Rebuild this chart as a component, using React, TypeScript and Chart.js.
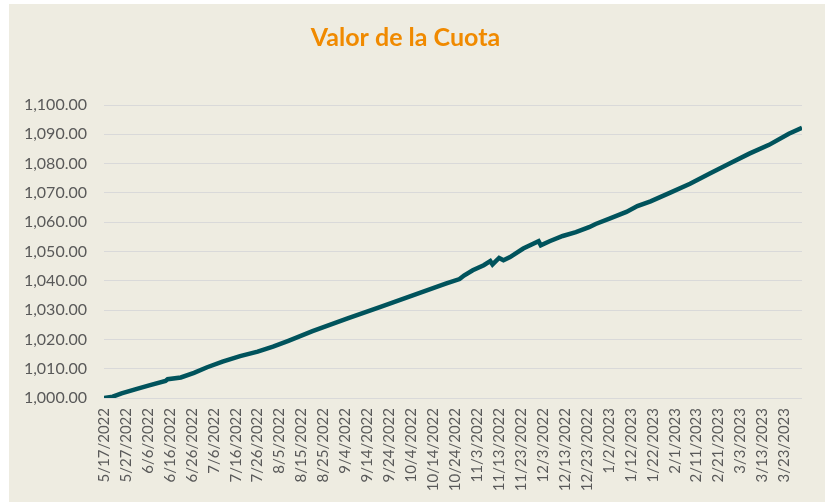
import React, { useEffect, useRef } from "react";
import { Chart, registerables } from "chart.js";

Chart.register(...registerables);

const startDate = "5/17/2022";

const sampleDates = [
  "5/17/2022", "5/21/2022", "5/25/2022", "6/1/2022", "6/7/2022", "6/14/2022", "6/15/2022",
  "6/21/2022", "6/27/2022", "7/3/2022", "7/10/2022", "7/18/2022", "7/26/2022", "8/2/2022",
  "8/9/2022", "8/20/2022", "9/5/2022", "9/20/2022", "10/5/2022", "10/20/2022", "10/26/2022",
  "10/28/2022", "11/1/2022", "11/6/2022", "11/9/2022", "11/10/2022", "11/13/2022", "11/15/2022",
  "11/18/2022", "11/24/2022", "12/1/2022", "12/2/2022", "12/6/2022", "12/12/2022", "12/18/2022",
  "12/24/2022", "12/27/2022", "1/2/2023", "1/10/2023", "1/15/2023", "1/21/2023", "1/30/2023",
  "2/8/2023", "2/17/2023", "2/26/2023", "3/7/2023", "3/16/2023", "3/25/2023", "3/31/2023",
];

const cuotaValues = [
  1000.0, 1000.45, 1001.6, 1003.1, 1004.4, 1005.8, 1006.4,
  1007.0, 1008.6, 1010.5, 1012.4, 1014.3, 1015.8, 1017.5,
  1019.5, 1022.8, 1027.2, 1031.1, 1035.1, 1039.1, 1040.6,
  1041.8, 1043.6, 1045.3, 1046.7, 1045.6, 1047.8, 1047.0,
  1048.1, 1051.0, 1053.5, 1052.1, 1053.5, 1055.3, 1056.6,
  1058.3, 1059.4, 1061.1, 1063.5, 1065.5, 1067.1, 1070.1,
  1073.1, 1076.6, 1080.0, 1083.4, 1086.4, 1090.2, 1092.2,
];

const tickLabels = [
  "5/17/2022", "5/27/2022", "6/6/2022", "6/16/2022", "6/26/2022", "7/6/2022", "7/16/2022",
  "7/26/2022", "8/5/2022", "8/15/2022", "8/25/2022", "9/4/2022", "9/14/2022", "9/24/2022",
  "10/4/2022", "10/14/2022", "10/24/2022", "11/3/2022", "11/13/2022", "11/23/2022", "12/3/2022",
  "12/13/2022", "12/23/2022", "1/2/2023", "1/12/2023", "1/22/2023", "2/1/2023", "2/11/2023",
  "2/21/2023", "3/3/2023", "3/13/2023", "3/23/2023",
];

const lastDate = "3/31/2023";

function dayIndex(s: string): number {
  const [m, d, y] = s.split("/").map(Number);
  const [m0, d0, y0] = startDate.split("/").map(Number);
  return Math.round((Date.UTC(y, m - 1, d) - Date.UTC(y0, m0 - 1, d0)) / 86400000);
}

const FONT = "Lato, 'Open Sans', sans-serif";

export default function App() {
  const ref = useRef<HTMLCanvasElement | null>(null);

  useEffect(() => {
    if (!ref.current) return;
    const tickDays = tickLabels.map(dayIndex);
    const chart = new Chart(ref.current, {
      type: "line",
      data: {
        datasets: [
          {
            label: "Valor de la Cuota",
            data: sampleDates.map((d, i) => ({ x: dayIndex(d), y: cuotaValues[i] })),
            borderColor: "#00535C",
            borderWidth: 4.5,
            pointRadius: 0,
            tension: 0,
            fill: false,
          },
        ],
      },
      options: {
        responsive: false,
        animation: false,
        layout: { padding: { left: 0, right: 23, top: 0, bottom: 0 } },
        plugins: {
          legend: { display: false },
          tooltip: { enabled: false },
          title: {
            display: true,
            text: "Valor de la Cuota",
            color: "#F08A00",
            font: { family: FONT, size: 25, weight: "bold" },
            padding: { top: 19, bottom: 52 },
          },
        },
        scales: {
          x: {
            type: "linear",
            min: 0,
            max: dayIndex(lastDate),
            afterBuildTicks: (scale: any) => {
              scale.ticks = tickDays.map((v) => ({ value: v }));
            },
            afterFit: (scale: any) => {
              scale.height = 104;
            },
            ticks: {
              autoSkip: false,
              minRotation: 90,
              maxRotation: 90,
              padding: 10,
              color: "#595959",
              font: { family: FONT, size: 15 },
              callback: (v: any) => {
                const i = tickDays.indexOf(Number(v));
                return i >= 0 ? tickLabels[i] : null;
              },
            },
            grid: { display: false, drawTicks: false },
            border: { display: false },
          },
          y: {
            min: 1000,
            max: 1100,
            afterFit: (scale: any) => {
              scale.width = 95;
            },
            ticks: {
              stepSize: 10,
              padding: 17,
              color: "#595959",
              font: { family: FONT, size: 16 },
              callback: (v: any) =>
                Number(v).toLocaleString("en-US", { minimumFractionDigits: 2, maximumFractionDigits: 2 }),
            },
            grid: { color: "#D9D9D9", lineWidth: 1, drawTicks: false },
            border: { display: false },
          },
        },
      },
    });
    return () => chart.destroy();
  }, []);

  return (
    <div
      style={{
        position: "absolute",
        left: 9,
        top: 4,
        width: 816,
        height: 498,
        background: "#EEECE1",
      }}
    >
      <canvas ref={ref} width={816} height={498} style={{ display: "block" }} />
    </div>
  );
}
